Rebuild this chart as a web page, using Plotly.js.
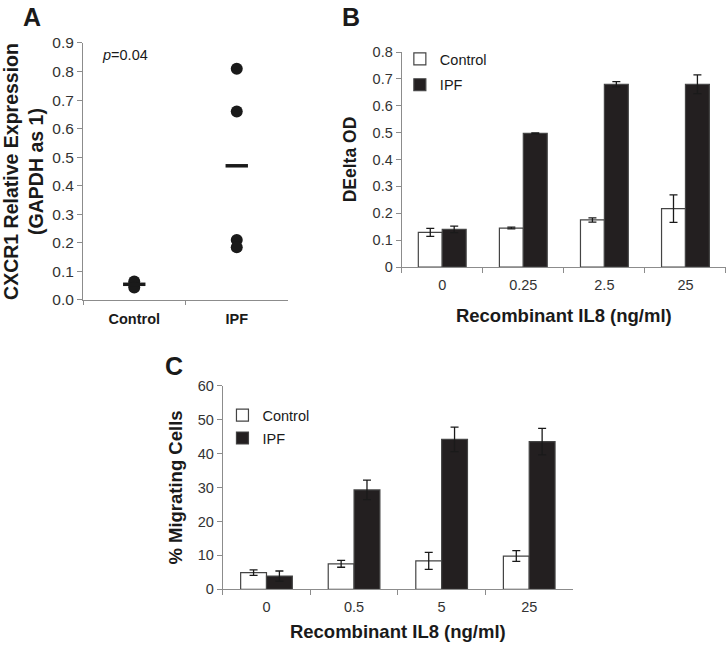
<!DOCTYPE html>
<html>
<head>
<meta charset="utf-8">
<script src="https://cdn.plot.ly/plotly-3.0.1.min.js"></script>
<style>html,body{margin:0;padding:0;background:#fff}#chart{width:727px;height:646px}</style>
</head>
<body>
<div id="chart"></div>
<script>
// Panel A: CXCR1 relative expression
const groupsA = ["Control", "IPF"];
const controlPointsA = [0.065, 0.055, 0.044];
const ipfPointsA = [0.81, 0.66, 0.21, 0.185];
const meansA = [0.055, 0.47];

// Panel B: Delta OD vs recombinant IL8
const doseB = ["0", "0.25", "2.5", "25"];
const controlB = [0.129, 0.145, 0.175, 0.217];
const controlErrB = [0.015, 0.003, 0.008, 0.051];
const ipfB = [0.140, 0.497, 0.680, 0.680];
const ipfErrB = [0.012, 0.002, 0.010, 0.035];

// Panel C: % migrating cells vs recombinant IL8
const doseC = ["0", "0.5", "5", "25"];
const controlC = [4.9, 7.5, 8.4, 9.8];
const controlErrC = [0.8, 1.0, 2.5, 1.6];
const ipfC = [3.9, 29.3, 44.2, 43.5];
const ipfErrC = [1.5, 2.9, 3.6, 3.9];

const FONT = "Liberation Sans, Arial, Helvetica, sans-serif";
const AXC = "#8c8c8c";
const DARK = "#231f20";

function rep(v, n) { return Array(n).fill(v); }

const traces = [
  {type: "scatter", mode: "markers", xaxis: "x", yaxis: "y", showlegend: false,
   x: rep(groupsA[0], controlPointsA.length), y: controlPointsA,
   marker: {color: "#1a1a1a", size: 12}},
  {type: "scatter", mode: "markers", xaxis: "x", yaxis: "y", showlegend: false,
   x: rep(groupsA[1], ipfPointsA.length), y: ipfPointsA,
   marker: {color: "#1a1a1a", size: 12}},
  {type: "scatter", mode: "markers", xaxis: "x", yaxis: "y", showlegend: false,
   x: groupsA, y: meansA,
   marker: {symbol: "line-ew", size: 16, line: {color: "#1a1a1a", width: 3.5}}},

  {type: "bar", name: "Control", xaxis: "x2", yaxis: "y2", legend: "legend", legendgroup: "b1",
   x: doseB, y: controlB,
   marker: {color: "#ffffff", line: {color: "#444", width: 1.2}},
   error_y: {type: "data", array: controlErrB, color: "#1a1a1a", thickness: 1.3, width: 4}},
  {type: "bar", name: "IPF", xaxis: "x2", yaxis: "y2", legend: "legend", legendgroup: "b2",
   x: doseB, y: ipfB,
   marker: {color: DARK, line: {color: "#444", width: 1.2}},
   error_y: {type: "data", array: ipfErrB, color: "#1a1a1a", thickness: 1.3, width: 4}},

  {type: "bar", name: "Control", xaxis: "x3", yaxis: "y3", legend: "legend2", legendgroup: "c1",
   x: doseC, y: controlC,
   marker: {color: "#ffffff", line: {color: "#444", width: 1.2}},
   error_y: {type: "data", array: controlErrC, color: "#1a1a1a", thickness: 1.3, width: 4}},
  {type: "bar", name: "IPF", xaxis: "x3", yaxis: "y3", legend: "legend2", legendgroup: "c2",
   x: doseC, y: ipfC,
   marker: {color: DARK, line: {color: "#444", width: 1.2}},
   error_y: {type: "data", array: ipfErrC, color: "#1a1a1a", thickness: 1.3, width: 4}}
];

const axBase = {showline: true, linecolor: AXC, linewidth: 1, ticks: "outside", tickcolor: AXC,
  ticklen: 5, showgrid: false, zeroline: false, automargin: false, fixedrange: true};

const layout = {
  width: 727, height: 646,
  margin: {l: 0, r: 0, t: 0, b: 0},
  paper_bgcolor: "#ffffff", plot_bgcolor: "#ffffff",
  font: {family: FONT, color: "#1a1a1a", size: 14.5},
  bargap: 0.41, bargroupgap: 0, barmode: "group",
  xaxis: Object.assign({}, axBase, {domain: [0.11417, 0.39615], anchor: "y", type: "category",
    tickson: "boundaries", range: [-0.5, 1.5], ticklen: 4, ticklabelstandoff: 6,
    tickfont: {size: 14.5, family: FONT, color: "#1a1a1a", weight: "bold"}}),
  yaxis: Object.assign({}, axBase, {domain: [0.53560, 0.93344], anchor: "x", range: [0, 0.9],
    dtick: 0.1, tickformat: ".1f", tickfont: {size: 15.5, color: "#333"},
    title: {text: "CXCR1 Relative Expression<br>(GAPDH as 1)", standoff: 18,
      font: {size: 19.5, family: FONT, color: "#1a1a1a", weight: "bold"}}}),
  xaxis2: Object.assign({}, axBase, {domain: [0.55254, 0.99862], anchor: "y2", type: "category",
    tickson: "boundaries", ticklabelstandoff: 5, tickfont: {size: 14.5, color: "#333"},
    title: {text: "Recombinant IL8 (ng/ml)", standoff: 16,
      font: {size: 18.5, family: FONT, color: "#1a1a1a", weight: "bold"}}}),
  yaxis2: Object.assign({}, axBase, {domain: [0.58669, 0.91950], anchor: "x2", range: [0, 0.8],
    dtick: 0.1, tickfont: {size: 14.5, color: "#333"},
    title: {text: "DEelta OD", standoff: 11,
      font: {size: 17.5, family: FONT, color: "#1a1a1a", weight: "bold"}}}),
  xaxis3: Object.assign({}, axBase, {domain: [0.30633, 0.78817], anchor: "y3", type: "category",
    tickson: "boundaries", ticklabelstandoff: 4, tickfont: {size: 14.5, color: "#333"},
    title: {text: "Recombinant IL8 (ng/ml)", standoff: 11,
      font: {size: 18.5, family: FONT, color: "#1a1a1a", weight: "bold"}}}),
  yaxis3: Object.assign({}, axBase, {domain: [0.08777, 0.40294], anchor: "x3", range: [0, 60],
    dtick: 10, tickfont: {size: 14.5, color: "#333"},
    title: {text: "% Migrating Cells", standoff: 10,
      font: {size: 18.5, family: FONT, color: "#1a1a1a", weight: "bold"}}}),
  legend: {x: 0.55, y: 0.9335, xanchor: "left", yanchor: "top", bgcolor: "rgba(0,0,0,0)",
    traceorder: "grouped", tracegroupgap: 4, font: {size: 14.5, color: "#1a1a1a"}},
  legend2: {x: 0.306, y: 0.382, xanchor: "left", yanchor: "top", bgcolor: "rgba(0,0,0,0)",
    traceorder: "grouped", tracegroupgap: 1, font: {size: 14.5, color: "#1a1a1a"}},
  annotations: [
    {text: "A", xref: "paper", yref: "paper", x: 0.044, y: 0.9737, xanchor: "center", yanchor: "middle",
     showarrow: false, font: {size: 25, family: FONT, color: "#1a1a1a", weight: "bold"}},
    {text: "B", xref: "paper", yref: "paper", x: 0.4828, y: 0.9737, xanchor: "center", yanchor: "middle",
     showarrow: false, font: {size: 25, family: FONT, color: "#1a1a1a", weight: "bold"}},
    {text: "C", xref: "paper", yref: "paper", x: 0.2393, y: 0.4334, xanchor: "center", yanchor: "middle",
     showarrow: false, font: {size: 25, family: FONT, color: "#1a1a1a", weight: "bold"}},
    {text: "<i>p</i>=0.04", xref: "paper", yref: "paper", x: 0.1376, y: 0.9149, xanchor: "left", yanchor: "middle",
     showarrow: false, font: {size: 14.5, family: FONT, color: "#1a1a1a"}}
  ]
};

Plotly.newPlot("chart", traces, layout, {staticPlot: true, displayModeBar: false});
</script>
</body>
</html>
